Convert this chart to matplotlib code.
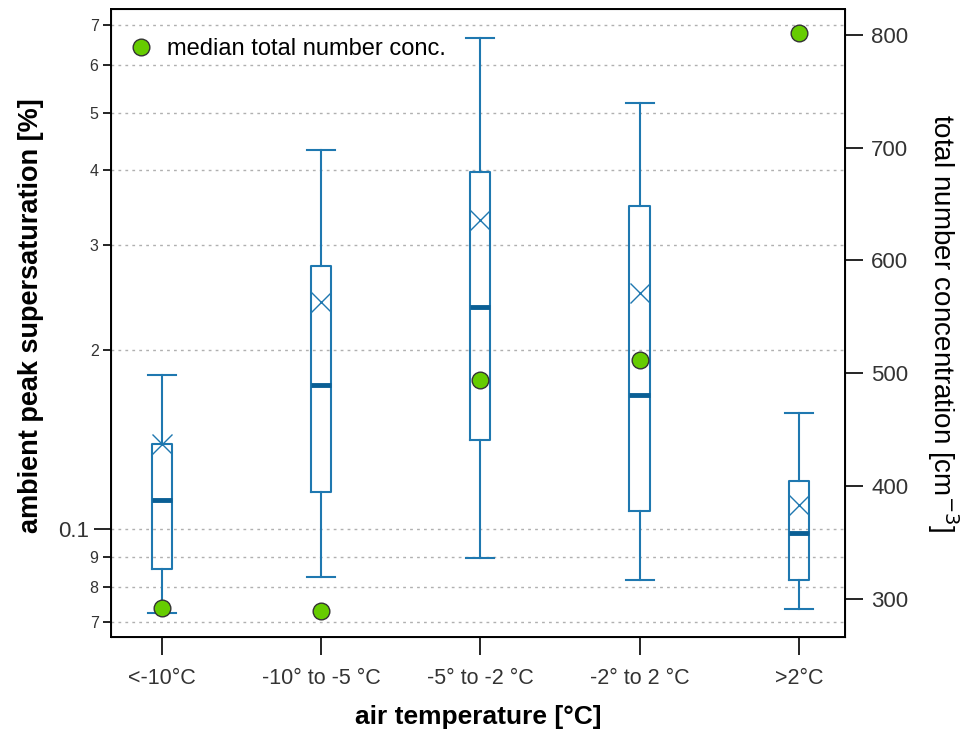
import matplotlib
matplotlib.use("Agg")
import matplotlib.pyplot as plt
from matplotlib.ticker import FixedLocator, FixedFormatter

plt.rcParams['font.family'] = ['Liberation Sans', 'DejaVu Sans']

# data (left axis in the units shown, log scale)
categories = ['<-10°C', '-10° to -5 °C', '-5° to -2 °C', '-2° to 2 °C', '>2°C']
whisker_low = [0.0725, 0.0833, 0.0894, 0.0824, 0.0734]
box_low = [0.0858, 0.1156, 0.1412, 0.1073, 0.0824]
medians = [0.112, 0.1746, 0.2363, 0.168, 0.0988]
box_high = [0.139, 0.2765, 0.397, 0.349, 0.1206]
whisker_high = [0.1815, 0.432, 0.667, 0.5185, 0.1565]
means = [0.139, 0.241, 0.330, 0.249, 0.1098]

# median total number concentration (right axis, cm^-3)
number_conc = [291.7, 288.7, 494.3, 512, 802]

major_ticks = [0.1]
minor_ticks = [0.07, 0.08, 0.09, 0.2, 0.3, 0.4, 0.5, 0.6, 0.7]
minor_ticklabels = ['7', '8', '9', '2', '3', '4', '5', '6', '7']
right_ticks = [300, 400, 500, 600, 700, 800]

box_color = '#1f78b0'
median_color = '#0a5f95'
dot_color = '#66cc00'
text_color = '#333333'

fig = plt.figure(figsize=(9.79, 7.33), dpi=100)
ax = fig.add_axes([0.1134, 0.131, 0.7497, 0.8567])

stats = []
for i in range(len(categories)):
    stats.append({
        'whislo': whisker_low[i], 'q1': box_low[i], 'med': medians[i],
        'q3': box_high[i], 'whishi': whisker_high[i], 'mean': means[i],
        'fliers': [],
    })

pos = list(range(len(categories)))
ax.bxp(stats, positions=pos, widths=0.127, capwidths=0.176, showmeans=True,
       boxprops=dict(color=box_color, linewidth=1.5),
       whiskerprops=dict(color=box_color, linewidth=1.5),
       capprops=dict(color=box_color, linewidth=1.5),
       medianprops=dict(color=median_color, linewidth=3.5),
       meanprops=dict(marker='x', markersize=14, markeredgecolor=box_color,
                      markeredgewidth=1.0, linestyle='none'))

ax.set_yscale('log')
ax.set_ylim(0.066, 0.746)
ax.set_xlim(-0.32, 4.29)
ax.yaxis.set_major_locator(FixedLocator(major_ticks))
ax.yaxis.set_major_formatter(FixedFormatter(['0.1']))
ax.yaxis.set_minor_locator(FixedLocator(minor_ticks))
ax.yaxis.set_minor_formatter(FixedFormatter(minor_ticklabels))
ax.tick_params(axis='y', which='major', direction='out', length=12, width=1.2,
               labelsize=16, labelcolor=text_color, pad=4)
ax.tick_params(axis='y', which='minor', direction='out', length=6, width=1.2,
               labelsize=11.5, labelcolor=text_color, pad=3)
ax.grid(axis='y', which='both', color='#b0b0b0', linestyle=(0, (2, 3)), linewidth=1.0)
ax.set_axisbelow(True)

ax.set_xticks(pos)
ax.set_xticklabels(categories, fontsize=15.5, color=text_color)
ax.tick_params(axis='x', direction='out', length=13, width=1.2, pad=9)

for sp in ax.spines.values():
    sp.set_linewidth(1.4)

ax.set_xlabel('air temperature [°C]', fontsize=19, fontweight='bold', labelpad=12)
ax.set_ylabel('ambient peak supersaturation [%]', fontsize=19.5, fontweight='bold',
              labelpad=10)
ax.yaxis.label.set_y(0.511)

ax2 = ax.twinx()
ax2.set_ylim(266, 823)
ax2.set_yticks(right_ticks)
ax2.tick_params(axis='y', direction='out', length=13, width=1.2, labelsize=16,
                labelcolor=text_color, pad=6)
ax2.plot(pos, number_conc, linestyle='none', marker='o', markersize=12,
         markerfacecolor=dot_color, markeredgecolor='#333333', markeredgewidth=1.0,
         label='median total number conc.')
ax2.set_ylabel('total number concentration [cm$^{-3}$]', fontsize=20, labelpad=12,
               rotation=270, va='bottom')
ax2.legend(loc='upper left', frameon=False, fontsize=17, handletextpad=0.5,
           borderaxespad=0.4, handlelength=1.2, bbox_to_anchor=(-0.004, 0.984))

fig.savefig('out.png', dpi=100)
